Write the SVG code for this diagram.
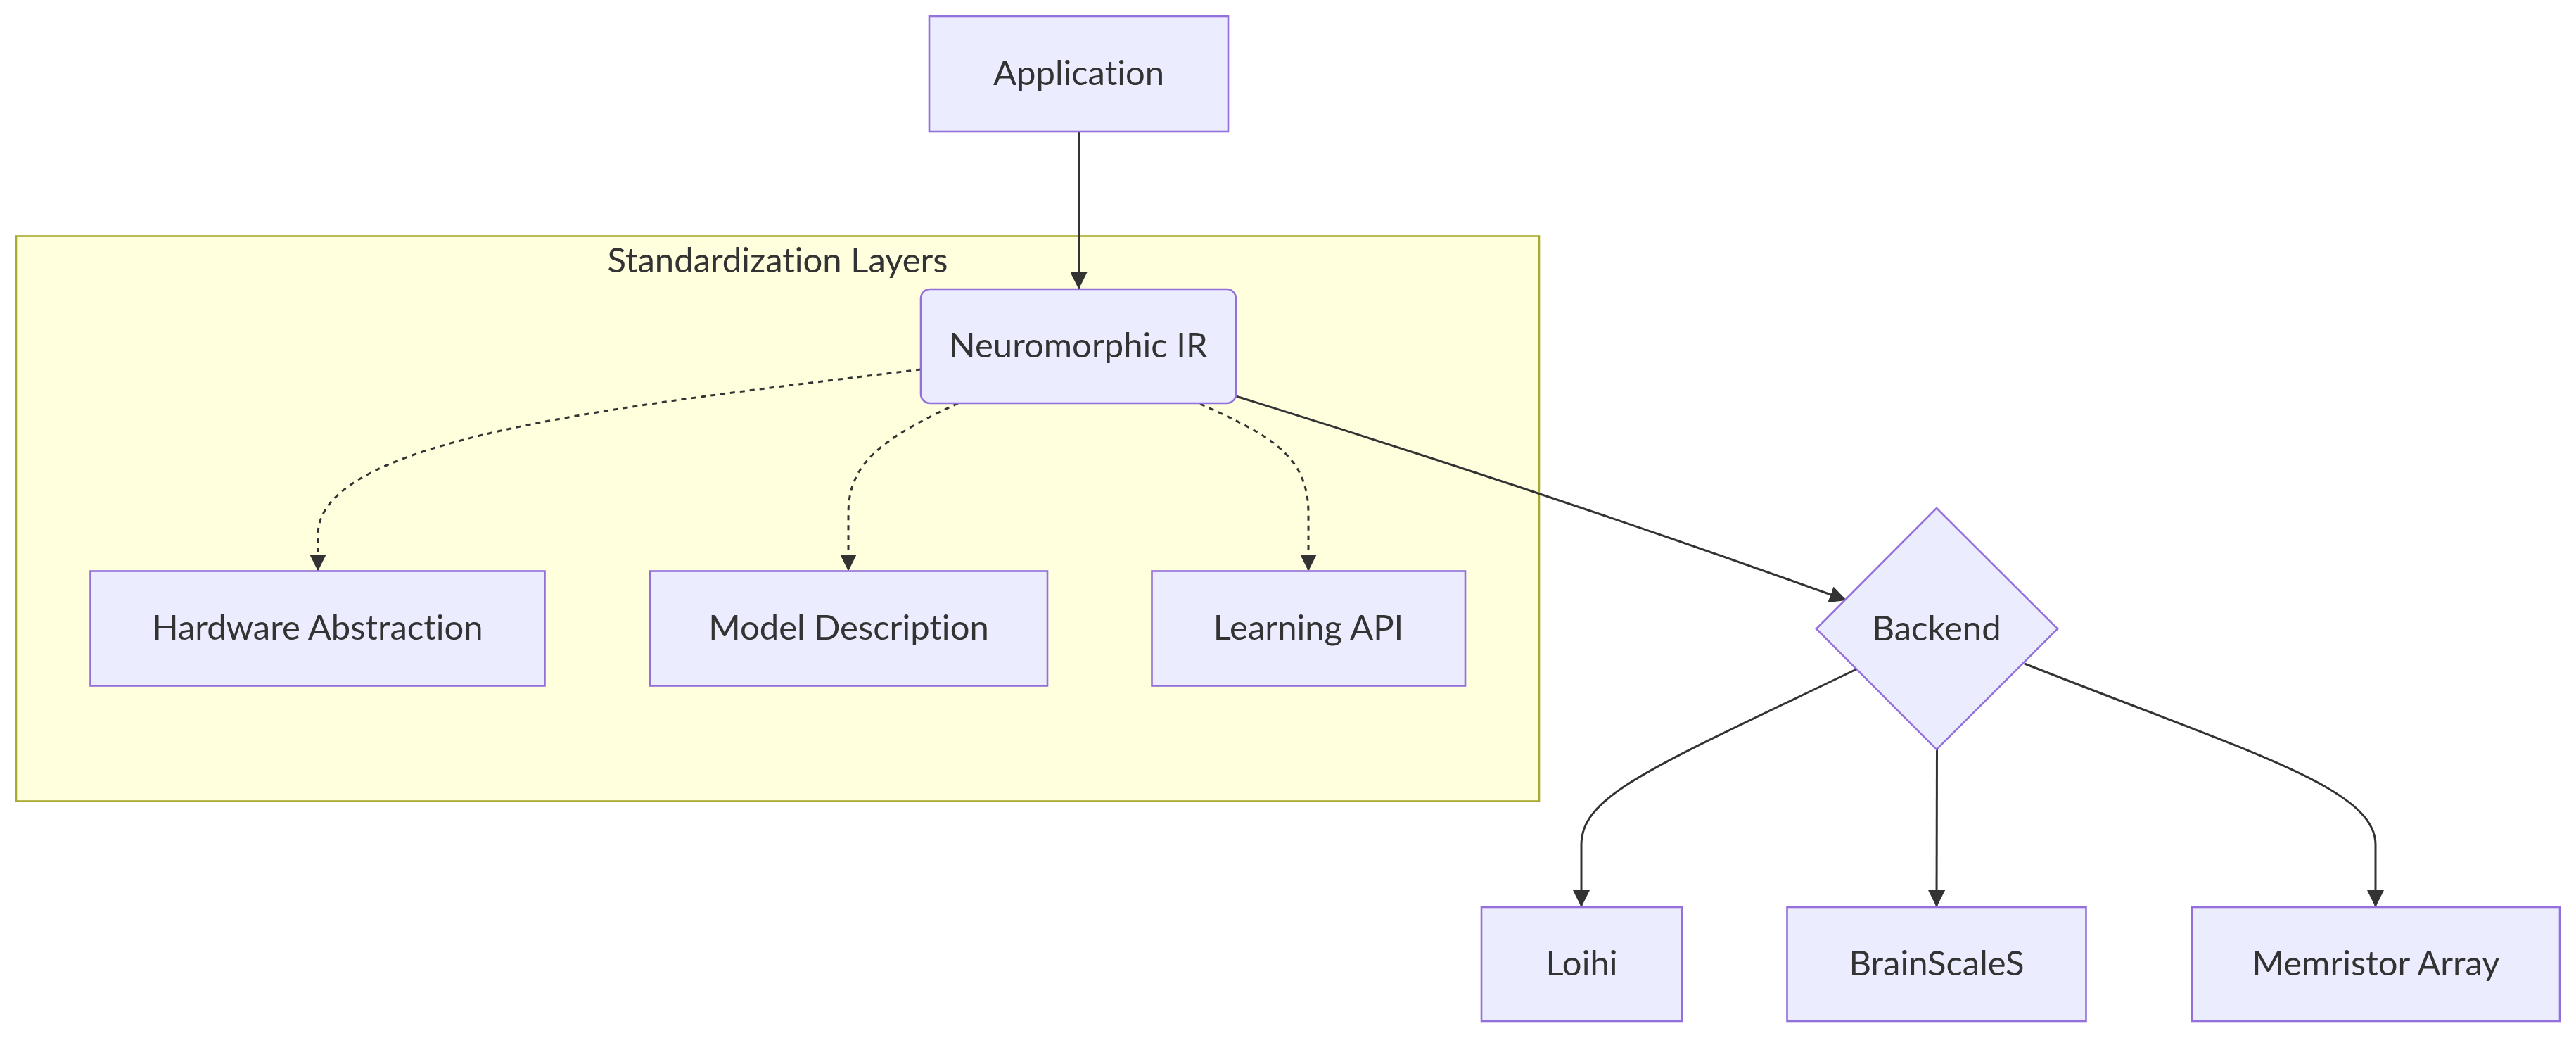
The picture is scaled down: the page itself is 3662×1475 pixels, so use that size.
<svg xmlns="http://www.w3.org/2000/svg" width="3662" height="1475" viewBox="0 0 3662 1475">
<style>
.node rect, .node polygon { fill: #ECECFF; stroke: #9370DB; stroke-width: 2.6; }
.cluster rect { fill: #FFFFDE; stroke: #AAAA33; stroke-width: 2.6; }
text { font-family: Lato, "Open Sans", "Liberation Sans", sans-serif; font-size: 49px; fill: #333333; text-anchor: middle; font-variant-ligatures: none; }
.edge { fill: none; stroke: #333333; stroke-width: 3; }
.dotted { stroke-dasharray: 7 7; }
</style>
<defs>
<marker id="arrow" viewBox="0 0 10 10" refX="10" refY="5" markerUnits="userSpaceOnUse" markerWidth="24" markerHeight="24" orient="auto">
<path d="M0,0 L10,5 L0,10 z" fill="#333333" stroke="none"/>
</marker>
</defs>
<rect width="3662" height="1475" fill="#FFFFFF"/>
<g id="cluster-standardization" class="cluster">
<rect x="23" y="335.5" width="2165" height="803"/>
<text x="1105.5" y="387">Standardization Layers</text>
</g>
<g id="edges">
<path class="edge" d="M1533.5,187 L1533.5,411" marker-end="url(#arrow)"/>
<path class="edge dotted" d="M1309,525 C900,575 452,620 452,760 L452,811.5" marker-end="url(#arrow)"/>
<path class="edge dotted" d="M1362,573 C1250,625 1206,660 1206,730 L1206,811.5" marker-end="url(#arrow)"/>
<path class="edge dotted" d="M1706,574 C1810,620 1860,650 1860,730 L1860,811.5" marker-end="url(#arrow)"/>
<path class="edge" d="M1757,563 Q2200,700 2625,853" marker-end="url(#arrow)"/>
<path class="edge" d="M2639,951 C2350,1090 2248,1130 2248,1200 L2248,1289" marker-end="url(#arrow)"/>
<path class="edge" d="M2753.5,1065 L2753,1289" marker-end="url(#arrow)"/>
<path class="edge" d="M2878,943 C3200,1070 3377,1120 3377,1200 L3377,1289" marker-end="url(#arrow)"/>
</g>
<g id="node-application" class="node">
<rect x="1321" y="23" width="425" height="164"/>
<text x="1533.5" y="121">Application</text>
</g>
<g id="node-ir" class="node">
<rect x="1309" y="411" width="448" height="162" rx="13" ry="13"/>
<text x="1533" y="508">Neuromorphic IR</text>
</g>
<g id="node-hardware" class="node">
<rect x="128.5" y="811.5" width="646" height="163"/>
<text x="451.5" y="909">Hardware Abstraction</text>
</g>
<g id="node-model" class="node">
<rect x="924" y="811.5" width="565" height="163"/>
<text x="1206.5" y="909">Model Description</text>
</g>
<g id="node-learning" class="node">
<rect x="1637.5" y="811.5" width="445.5" height="163"/>
<text x="1860" y="909">Learning API</text>
</g>
<g id="node-backend" class="node">
<polygon points="2753,722 2925,893.5 2753,1065 2582,893.5"/>
<text x="2753" y="910">Backend</text>
</g>
<g id="node-loihi" class="node">
<rect x="2106" y="1289" width="285" height="162"/>
<text x="2248.5" y="1386">Loihi</text>
</g>
<g id="node-brainscales" class="node">
<rect x="2540.5" y="1289" width="425" height="162"/>
<text x="2753" y="1386">BrainScaleS</text>
</g>
<g id="node-memristor" class="node">
<rect x="3116" y="1289" width="523" height="162"/>
<text x="3377.5" y="1386">Memristor Array</text>
</g>
</svg>
